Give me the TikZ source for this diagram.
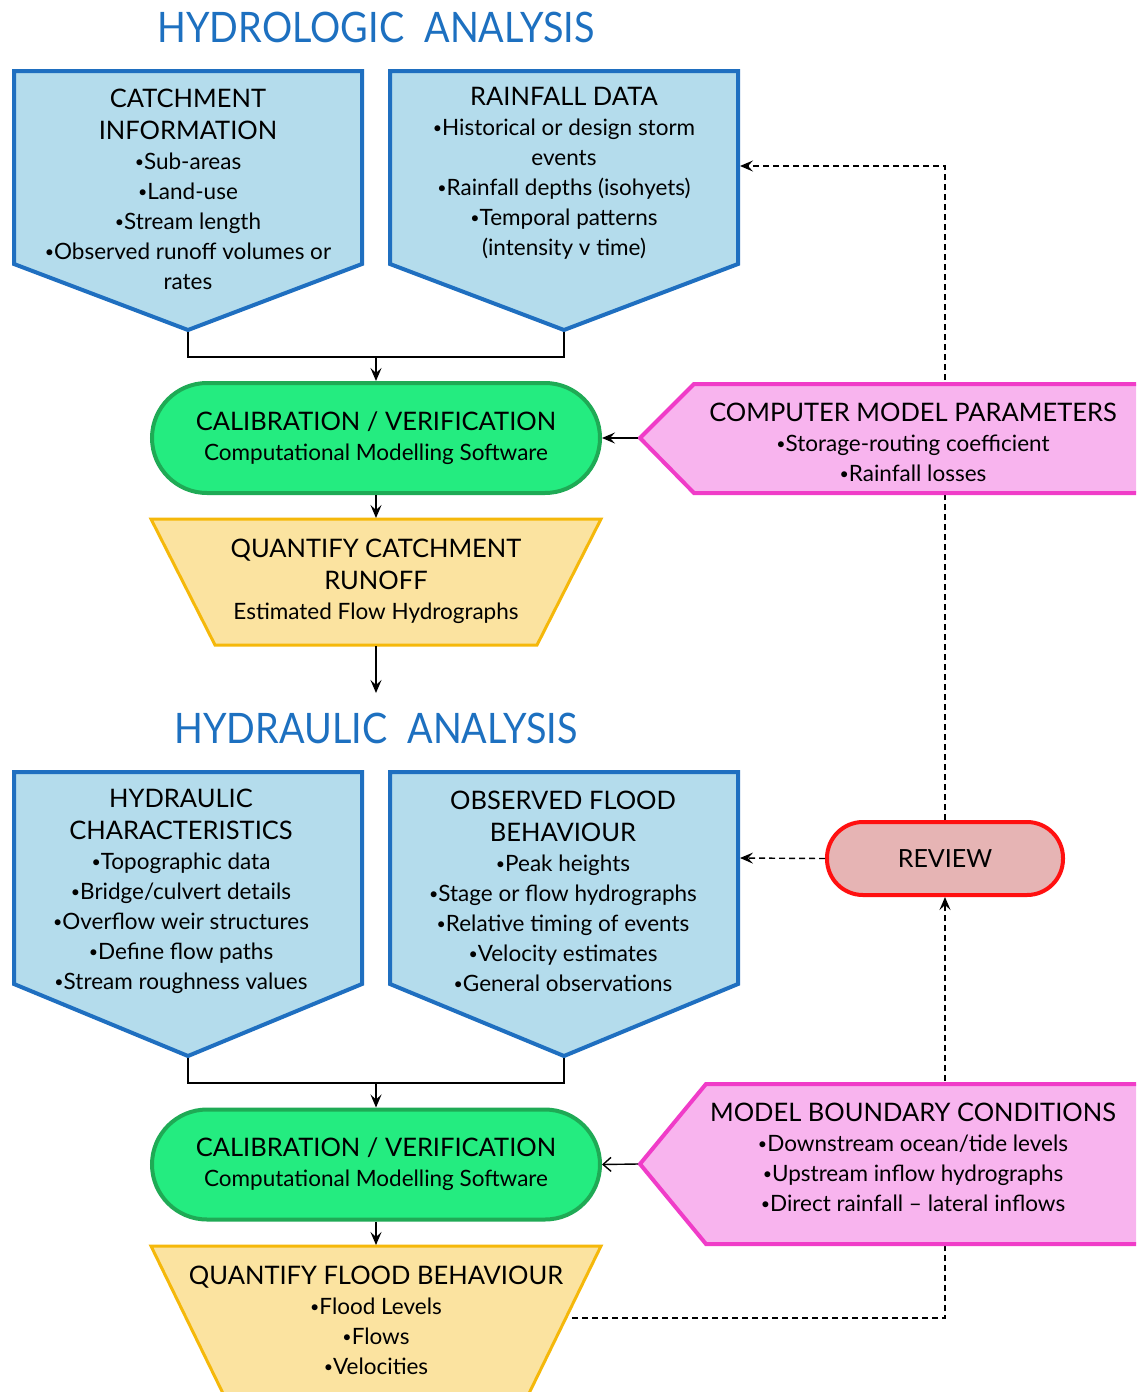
\documentclass[tikz,border=0pt]{standalone}
\usepackage{fontspec}
\setmainfont{Lato}
\newfontfamily\titlefont[FakeStretch=0.9]{Lato}
\usetikzlibrary{arrows.meta}
\definecolor{bxblue}{HTML}{B4DCEC}
\definecolor{bxbluedk}{HTML}{1F6FC0}
\definecolor{ttlblue}{HTML}{1D70C0}
\definecolor{grfill}{HTML}{24EC80}
\definecolor{grdraw}{HTML}{1FAA55}
\definecolor{ylfill}{HTML}{FBE3A0}
\definecolor{yldraw}{HTML}{F5B80A}
\definecolor{pkfill}{HTML}{F8B4EE}
\definecolor{pkdraw}{HTML}{F03CC8}
\definecolor{rvfill}{HTML}{E6B4B4}
\definecolor{rvdraw}{HTML}{FF1010}
\newcommand\hd[1]{{\fontsize{25.5}{30}\selectfont #1}}
\newcommand\bl{\raisebox{0.08em}{\fontsize{16}{16}\selectfont •}}
\begin{document}
\begin{tikzpicture}[x=1pt,y=-1pt,
  bluebox/.style={draw=bxbluedk, fill=bxblue, line width=4pt, line join=miter},
  ylbox/.style={draw=yldraw, fill=ylfill, line width=3pt, line join=miter},
  pkbox/.style={draw=pkdraw, fill=pkfill, line width=4pt, line join=miter},
  calbox/.style={draw=grdraw, fill=grfill, line width=4pt, rounded corners=55pt,
     minimum width=448pt, minimum height=110pt, align=center, inner sep=0pt,
     font=\fontsize{22.5}{30}\selectfont},
  txt/.style={align=center, inner sep=0pt, font=\fontsize{22.5}{30}\selectfont},
  ttl/.style={inner sep=0pt, text=ttlblue, font=\titlefont\fontsize{42}{42}\selectfont},
  conn/.style={line width=1.4pt, draw=black},
  tip/.style={-{Stealth[length=13pt,width=11pt,inset=5pt]}},
  arr/.style={conn, tip},
  oarr/.style={conn, -{Straight Barb[length=8pt,width=14pt]}},
  dsh/.style={conn, dash pattern=on 6pt off 4pt},
]
\useasboundingbox (0,0) rectangle (1136,1392);
\clip (0,0) rectangle (1136,1392);
\fill[white] (0,0) rectangle (1136,1392);

% titles
\node[ttl] (t1) at (376,27) {HYDROLOGIC\hspace{0.25em} ANALYSIS};
\node[ttl] (t2) at (376,728) {HYDRAULIC\hspace{0.25em} ANALYSIS};

% review + dashed feedback lines (behind pink boxes)
\node[draw=rvdraw, fill=rvfill, line width=4pt, rounded corners=36pt,
      minimum width=236pt, minimum height=73pt, inner sep=0pt,
      font=\fontsize{25}{30}\selectfont] (rv) at (945,858.5) {REVIEW};
\coordinate (rainR) at (740,166);
\coordinate (obsR) at (740,858);
\coordinate (q2R) at (572,1318);
\draw[dsh, tip] (rv.north) |- (rainR);
\draw[dsh, tip] (rv.west) -- (obsR);
\draw[dsh, tip] (q2R) -| (rv.south);

% top pentagons
\draw[bluebox] (14,71) -- (362,71) -- (362,264) -- (188,330) -- (14,264) -- cycle;
\coordinate (catB) at (188,332);
\node[txt] (cat) at (188,189) {\hd{CATCHMENT}\\[2pt]\hd{INFORMATION}\\\bl Sub-areas\\\bl Land-use\\\bl Stream length\\\bl Observed runoff volumes or\\rates};
\draw[bluebox] (390,71) -- (738,71) -- (738,264) -- (564,330) -- (390,264) -- cycle;
\coordinate (rainB) at (564,332);
\node[txt] (rain) at (564,173) {\hd{RAINFALL DATA}\\\bl Historical or design storm\\events\\\bl Rainfall depths (isohyets)\\\bl Temporal patterns\\(intensity v time)};

% calibration 1
\node[calbox] (cal1) at (376,438) {\hd{CALIBRATION / VERIFICATION}\\Computational Modelling Software};
\draw[conn] (catB) -- (188,357) -- (564,357) -- (rainB);
\coordinate (j1) at (376,357);
\draw[arr] (j1) -- (cal1.north);

% quantify 1
\draw[ylbox] (151,519) -- (601,519) -- (537,645) -- (215,645) -- cycle;
\coordinate (q1T) at (376,518);
\coordinate (q1B) at (376,646);
\coordinate (q1E) at (376,693);
\node[txt] (q1) at (376,581) {\hd{QUANTIFY CATCHMENT}\\[2pt]\hd{RUNOFF}\\Estimated Flow Hydrographs};
\draw[arr] (cal1.south) -- (q1T);
\draw[arr] (q1B) -- (q1E);

% pink box 1
\draw[pkbox] (640,438) -- (694,384) -- (1150,384) -- (1150,493) -- (694,493) -- cycle;
\coordinate (pk1L) at (638,438);
\node[txt] (pk1) at (913,442) {\hd{COMPUTER MODEL PARAMETERS}\\\bl Storage-routing coefficient\\\bl Rainfall losses};
\draw[arr] (pk1L) -- (cal1.east);

% bottom pentagons
\draw[bluebox] (14,772) -- (362,772) -- (362,984) -- (188,1056) -- (14,984) -- cycle;
\coordinate (hydB) at (188,1058);
\node[txt] (hyd) at (181,891) {\hd{HYDRAULIC}\\[2pt]\hd{CHARACTERISTICS}\\\bl Topographic data\\\bl Bridge/culvert details\\\bl Overflow weir structures\\\bl Define flow paths\\\bl Stream roughness values};
\draw[bluebox] (390,772) -- (738,772) -- (738,984) -- (564,1056) -- (390,984) -- cycle;
\coordinate (obsB) at (564,1058);
\node[txt] (obs) at (563,891) {\hd{OBSERVED FLOOD}\\[2pt]\hd{BEHAVIOUR}\\\bl Peak heights\\\bl Stage or flow hydrographs\\\bl Relative timing of events\\\bl Velocity estimates\\\bl General observations};

% calibration 2
\node[calbox] (cal2) at (376,1164.5) {\hd{CALIBRATION / VERIFICATION}\\Computational Modelling Software};
\draw[conn] (hydB) -- (188,1083) -- (564,1083) -- (obsB);
\coordinate (j2) at (376,1083);
\draw[arr] (j2) -- (cal2.north);

% quantify 2
\draw[ylbox] (151,1246) -- (601,1246) -- (516,1420) -- (236,1420) -- cycle;
\coordinate (q2T) at (376,1245);
\node[txt] (q2) at (376,1320) {\hd{QUANTIFY FLOOD BEHAVIOUR}\\\bl Flood Levels\\\bl Flows\\\bl Velocities};
\draw[arr] (cal2.south) -- (q2T);

% pink box 2
\draw[pkbox] (640,1164) -- (706,1084) -- (1150,1084) -- (1150,1244) -- (706,1244) -- cycle;
\coordinate (pk2L) at (638,1164);
\node[txt] (pk2) at (913,1157) {\hd{MODEL BOUNDARY CONDITIONS}\\\bl Downstream ocean/tide levels\\\bl Upstream inflow hydrographs\\\bl Direct rainfall – lateral inflows};
\draw[oarr] (pk2L) -- (cal2.east);
\end{tikzpicture}
\end{document}
